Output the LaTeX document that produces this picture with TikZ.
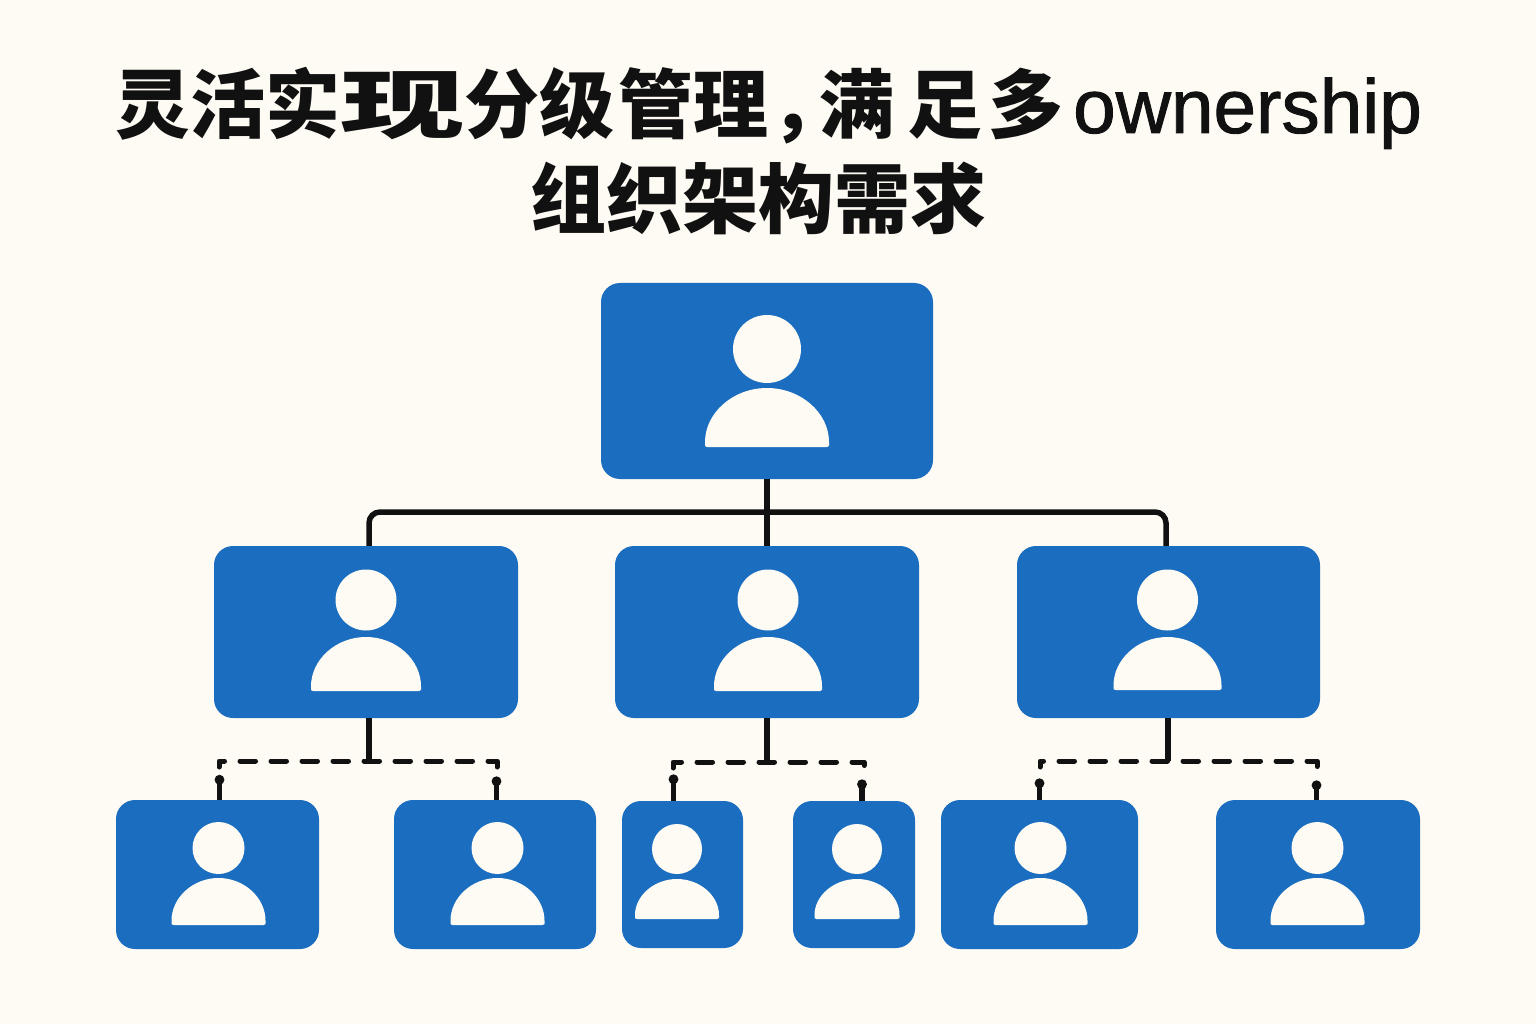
\documentclass[tikz,border=0pt]{standalone}
\usepackage{fontspec}
\usepackage{tikz}
\usetikzlibrary{arrows.meta,positioning}
\newfontfamily\cjk{Noto Sans CJK SC}
\newfontfamily\latinfont[RawFeature={embolden=1.2}]{Liberation Sans}
\definecolor{paper}{HTML}{FEFBF4}
\definecolor{boxblue}{HTML}{1A6DBF}
\definecolor{ink}{HTML}{111111}

% head and shoulders inside a box: box, dx, head dy, head radius, half width, body top dy, body bottom dy
\newcommand{\person}[7]{
    \node[head, minimum size=2*#4] (#1head) at ([shift={(#2,#3)}]#1.center) {};
    \fill[paper, rounded corners=2pt] ([shift={(#2-#5,#7)}]#1.center) -- ++(0,{0.05*(#6-(#7))})
        arc[start angle=180, end angle=0, x radius=#5, y radius={0.95*(#6-(#7))}] -- ++(0,{-0.05*(#6-(#7))}) -- cycle;
}

\begin{document}
\begin{tikzpicture}[
    x = 1pt,
    y = 1pt,
    orgbox/.style = {fill = boxblue, rounded corners = 19pt, inner sep = 0pt},
    head/.style = {circle, fill = paper, inner sep = 0pt},
    titletext/.style = {text = ink, inner sep = 0pt},
    solidlink/.style = {draw = ink, line width = 5.5pt},
    dashlink/.style = {draw = ink, line width = 5pt, line cap = round, line join = round, dash pattern = on 15.5pt off 15.5pt},
    stublink/.style = {draw = ink, line width = 5.5pt, {Circle[length=9.5pt,width=9.5pt]}-}
    ]

    \fill[paper] (0,0) rectangle (1536,-1024);
    \useasboundingbox (0,0) rectangle (1536,-1024);

    \node[titletext, anchor=base west] (title1) at (115,-133) {\fontsize{75}{75}\selectfont\cjk\bfseries 灵活实\scalebox{1.66}[1]{现}分级\kern4pt 管理\kern2pt ，\kern-26.5pt 满\kern13pt 足\kern6pt 多\kern10pt{\latinfont\mdseries\fontsize{76.5}{76.5}\selectfont ownership}};
    \node[titletext, anchor=base] (title2) at (758.5,-228) {\fontsize{76}{76}\selectfont\cjk\bfseries 组织架构需求};

    \node[orgbox, minimum width=332pt, minimum height=196pt] (root) at (767,-381) {};
    \node[orgbox, minimum width=304pt, minimum height=172pt] (mgrL) at (366,-632) {};
    \node[orgbox, minimum width=304pt, minimum height=172pt] (mgrM) at (767,-632) {};
    \node[orgbox, minimum width=303pt, minimum height=172pt] (mgrR) at (1168.5,-632) {};
    \node[orgbox, minimum width=203pt, minimum height=149pt] (staffA) at (217.5,-874.5) {};
    \node[orgbox, minimum width=202pt, minimum height=149pt] (staffB) at (495,-874.5) {};
    \node[orgbox, minimum width=121pt, minimum height=147pt] (staffC) at (682.5,-874.5) {};
    \node[orgbox, minimum width=122pt, minimum height=147pt] (staffD) at (854,-874.5) {};
    \node[orgbox, minimum width=197pt, minimum height=149pt] (staffE) at (1039.5,-874.5) {};
    \node[orgbox, minimum width=204pt, minimum height=149pt] (staffF) at (1318,-874.5) {};

    \person{root}{0}{32}{34}{62}{-7}{-66}
    \person{mgrL}{0}{32}{30.5}{55}{-5}{-59}
    \person{mgrM}{1}{32}{30.5}{54}{-5}{-59}
    \person{mgrR}{-1}{32}{30.5}{54}{-5}{-58}
    \person{staffA}{1}{26.5}{26}{47}{-3.5}{-50.5}
    \person{staffB}{2.5}{26.5}{26}{47}{-3.5}{-50.5}
    \person{staffC}{-5.5}{25.5}{25}{42}{-4.5}{-44.5}
    \person{staffD}{3}{25.5}{25}{42.5}{-4.5}{-44.5}
    \person{staffE}{1}{26.5}{26}{47}{-3.5}{-50.5}
    \person{staffF}{-0.5}{26.5}{26}{47}{-3.5}{-50.5}

    \coordinate (bus) at (767,-512);
    \coordinate (jointL) at (369,-761);
    \coordinate (jointM) at (767,-762);
    \coordinate (jointR) at (1168,-761);
    \coordinate (dropA) at (219,-761);
    \coordinate (dropB) at (497,-761);
    \coordinate (dropC) at (673,-762);
    \coordinate (dropD) at (864,-762);
    \coordinate (dropE) at (1040,-761);
    \coordinate (dropF) at (1317,-761);
    \coordinate (tipA) at (219.5,-775);
    \coordinate (tipB) at (496.5,-776.5);
    \coordinate (tipC) at (673.5,-774.5);
    \coordinate (tipD) at (862,-779.5);
    \coordinate (tipE) at (1039.5,-778.5);
    \coordinate (tipF) at (1316.5,-780.5);

    \path[solidlink] (root) -- (mgrM);
    \path[solidlink, rounded corners=11pt] ([xshift=3pt]mgrL.north) |- (bus) -| ([xshift=-2.5pt]mgrR.north);

    \path[solidlink] (mgrL.south -| jointL) -- (jointL);
    \path[solidlink] (mgrM) -- (jointM);
    \path[solidlink] (mgrR.south -| jointR) -- (jointR);

    % dashes start on the short hook at each end
    \path[dashlink, dash phase=4pt] ([yshift=-6pt]dropA) -- (dropA) -- (dropB) -- ++(0,-6);
    \path[dashlink, dash phase=1pt] ([yshift=-6pt]dropC) -- (dropC) -- (dropD) -- ++(0,-6);
    \path[dashlink, dash phase=6pt] ([yshift=-6pt]dropE) -- (dropE) -- (dropF) -- ++(0,-6);

    \path[stublink] (tipA) -- (tipA |- staffA.north);
    \path[stublink] (tipB) -- (tipB |- staffB.north);
    \path[stublink] (tipC) -- (tipC |- staffC.north);
    \path[stublink] (tipD) -- (tipD |- staffD.north);
    \path[stublink] (tipE) -- (tipE |- staffE.north);
    \path[stublink] (tipF) -- (tipF |- staffF.north);
\end{tikzpicture}
\end{document}
